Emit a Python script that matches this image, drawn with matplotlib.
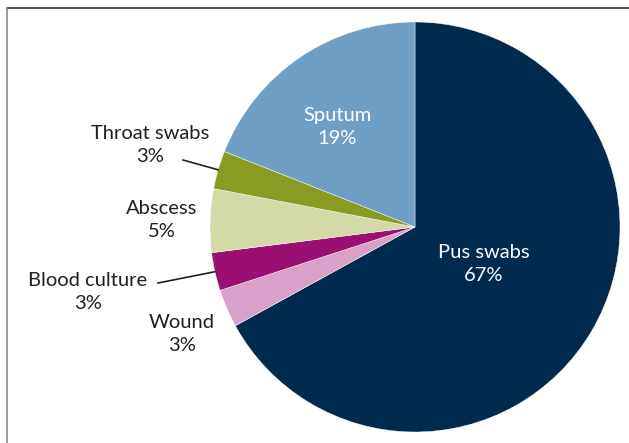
import matplotlib.pyplot as plt
import numpy as np
from matplotlib.lines import Line2D

# Sample types, clockwise from 12 o'clock
labels = ["Pus swabs", "Wound", "Blood culture", "Abscess", "Throat swabs", "Sputum"]
shares = [67, 3, 3, 5, 3, 19]
colors = ["#012b4e", "#d9a0c9", "#9b0f72", "#d3d9a7", "#899b22", "#6f9fc5"]

W, H = 629, 443
CX, CY, R = 415, 227, 205  # pie centre / radius in pixels


def px(x, y):
    """pixel position -> data coords (pie radius = 1)"""
    return (x - CX) / R, (CY - y) / R


plt.rcParams["font.family"] = ["Lato", "DejaVu Sans"]

fig = plt.figure(figsize=(W / 100, H / 100), dpi=100)
ax = fig.add_axes([0, 0, 1, 1])

wedges, _ = ax.pie(
    shares,
    colors=colors,
    startangle=90,
    counterclock=False,
    radius=1,
    wedgeprops=dict(linewidth=0.3, edgecolor="white"),
)
ax.set_xlim(-CX / R, (W - CX) / R)
ax.set_ylim(-(H - CY) / R, CY / R)
ax.set_aspect("auto")
ax.axis("off")

fs = 14.5
txt = "#231f20"

# inside labels
inside = {"Pus swabs": (484, 264), "Sputum": (337, 127)}
for name, (x, y) in inside.items():
    i = labels.index(name)
    ax.text(*px(x, y), f"{name}\n{shares[i]}%", color="white", fontsize=fs,
            ha="center", va="center", linespacing=1.45)

# outside labels; leader lines for the thin slices
outside = {
    "Throat swabs": (150, 145),
    "Abscess": (162, 220),
    "Wound": (182, 334),
    "Blood culture": (88, 292),
}
leaders = {"Throat swabs": (183, 160), "Blood culture": (158, 283)}

for name, (x, y) in outside.items():
    i = labels.index(name)
    ax.text(*px(x, y), f"{name}\n{shares[i]}%", color=txt, fontsize=fs,
            ha="center", va="center", linespacing=1.45)

cum = np.cumsum([0] + shares)
for name, (lx, ly) in leaders.items():
    i = labels.index(name)
    mid = (cum[i] + cum[i + 1]) / 2 / 100
    ang = np.deg2rad(90 - mid * 360)
    ax.plot([px(lx, ly)[0], np.cos(ang)], [px(lx, ly)[1], np.sin(ang)],
            color=txt, linewidth=1.2)

# frame
fig.add_artist(Line2D([7 / W, 1], [1 - 8 / H, 1 - 8 / H], color="#333333", linewidth=1.2))
fig.add_artist(Line2D([7 / W, 7 / W], [0, 1 - 8 / H], color="#8a8a8a", linewidth=1.2))

fig.savefig("out.png", dpi=100)
